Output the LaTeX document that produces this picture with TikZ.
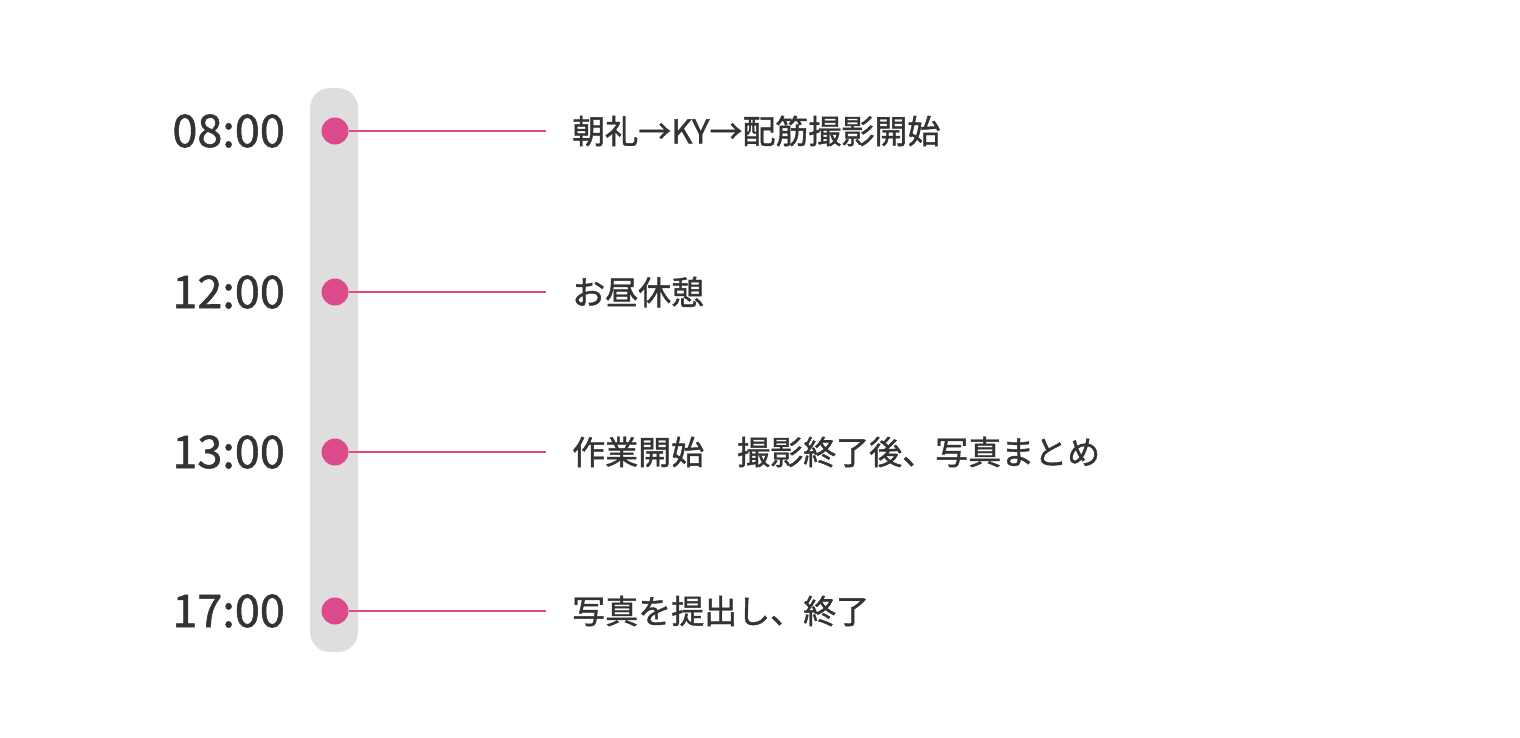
\documentclass[tikz,border=0pt]{standalone}
\usepackage{fontspec}
\setmainfont{Noto Sans CJK JP}[FakeBold=1.2]
\definecolor{dotpink}{HTML}{DD4A8C}
\definecolor{barfill}{HTML}{DEDEDE}
\definecolor{txt}{HTML}{333333}
\tikzset{
  timelabel/.style={anchor=east, text=txt, font=\fontsize{45}{50}\selectfont, inner sep=0pt},
  tasklabel/.style={anchor=west, text=txt, font=\fontsize{33}{38}\selectfont, inner sep=0pt},
  dot/.style={circle, fill=dotpink, minimum size=27pt, inner sep=0pt},
  leader/.style={dotpink, line width=1.5pt}
}
\begin{document}
\begin{tikzpicture}[x=1pt,y=-1pt]
\useasboundingbox (0,0) rectangle (1520,737);
\fill[barfill, rounded corners=20pt] (310,88) rectangle (358,652);
\foreach \y/\t/\task/\n in {131/08:00/朝礼→KY→配筋撮影開始/a,292/12:00/お昼休憩/b,452/13:00/作業開始\quad 撮影終了後、写真まとめ/c,611/17:00/写真を提出し、終了/d}{
  \node[timelabel] (time\n) at (285,\y) {\t};
  \node[dot] (dot\n) at (335,\y) {};
  \coordinate (end\n) at (546,\y);
  \node[tasklabel] (task\n) at (572,\y) {\task};
  \draw[leader] (dot\n) -- (end\n);
}
\end{tikzpicture}
\end{document}
